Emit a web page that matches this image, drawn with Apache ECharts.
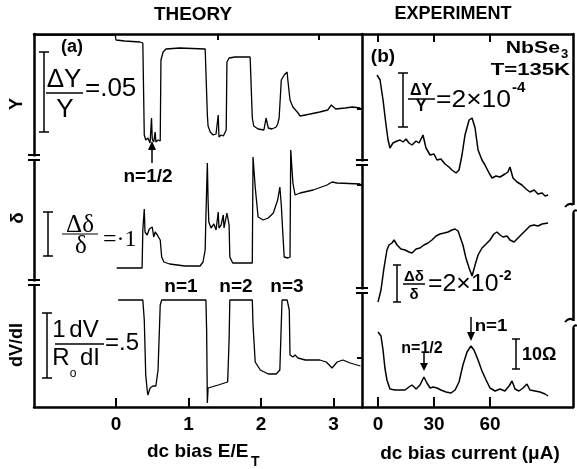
<!DOCTYPE html>
<html><head><meta charset="utf-8">
<script src="https://cdn.jsdelivr.net/npm/echarts@6/dist/echarts.min.js"></script>
<style>html,body{margin:0;padding:0;background:#fff}#c{width:577px;height:469px}</style>
</head><body><div id="c"></div>
<script>
// ---- tick values ----
const thTicks = [0, 1, 2, 3];
const thTopTicks = [1.41, 2.79];
const exTicks = [0, 30, 60];

// ---- THEORY (x: E/E_T, y: relative units) ----
const thY = [[-1.10,120],[-0.01,120],[0.00,115],[0.12,114],[0.33,113],[0.37,112],[0.39,20],[0.41,15],[0.44,17],[0.47,12],[0.49,37],[0.50,16],[0.52,13],[0.54,23],[0.55,13],[0.58,15],[0.61,14],[0.62,95],[0.65,103],[0.69,106],[0.88,107],[1.23,106],[1.24,105],[1.26,40],[1.27,29],[1.30,23],[1.34,20],[1.38,21],[1.40,20],[1.41,40],[1.42,18],[1.45,20],[1.48,19],[1.50,21],[1.52,25],[1.53,93],[1.56,97],[1.64,98],[1.85,98],[1.86,97],[1.88,37],[1.90,29],[1.96,26],[2.04,25],[2.07,37],[2.10,27],[2.15,26],[2.21,28],[2.23,31],[2.25,37],[2.28,75],[2.32,80],[2.36,83],[2.37,75],[2.40,55],[2.44,48],[2.50,43],[2.54,39],[2.68,41],[2.81,43],[2.92,45],[2.97,50],[2.99,49],[3.03,46],[3.16,47],[3.26,48],[3.37,47]];
const thD = [[0.01,12],[0.36,12],[0.37,50],[0.39,71],[0.40,48],[0.43,45],[0.46,51],[0.50,53],[0.52,43],[0.54,48],[0.57,45],[0.61,40],[0.63,23],[0.66,18],[0.74,16],[0.95,14],[1.16,14],[1.20,18],[1.23,30],[1.24,63],[1.26,117],[1.27,80],[1.28,58],[1.31,52],[1.35,56],[1.38,50],[1.41,68],[1.42,52],[1.45,55],[1.48,65],[1.49,52],[1.53,67],[1.56,55],[1.57,23],[1.61,17],[1.78,17],[1.88,17],[1.89,123],[1.92,93],[1.96,63],[2.03,60],[2.10,62],[2.17,67],[2.23,80],[2.26,93],[2.28,75],[2.30,48],[2.32,23],[2.37,22],[2.40,23],[2.41,130],[2.44,97],[2.47,85],[2.54,87],[2.72,90],[2.91,95],[2.98,98],[3.05,97],[3.37,96]];
const thR = [[0.03,107],[0.37,107],[0.39,87],[0.41,32],[0.43,17],[0.44,12],[0.47,19],[0.51,21],[0.55,21],[0.58,37],[0.61,102],[0.63,107],[1.24,107],[1.25,77],[1.26,4],[1.27,19],[1.41,22],[1.54,25],[1.56,67],[1.57,107],[1.88,107],[1.89,82],[1.92,45],[1.99,37],[2.10,33],[2.21,33],[2.26,37],[2.29,107],[2.36,107],[2.39,97],[2.40,52],[2.44,50],[2.47,52],[2.51,49],[2.61,47],[2.81,47],[2.90,45],[2.98,39],[3.05,45],[3.13,47],[3.23,44],[3.37,41]];

// ---- EXPERIMENT (x: dc bias current in uA, y: relative units) ----
const exY = [[-0.5,135],[1.1,130],[2.7,110],[4.3,85],[5.4,70],[6.4,62],[8.0,67],[10.2,69],[11.8,70],[13.4,68],[15.0,71],[16.6,67],[18.2,65],[20.4,69],[22.0,67],[24.1,75],[25.7,62],[27.9,55],[30.0,56],[31.6,50],[33.7,51],[35.9,46],[38.0,43],[39.6,40],[41.8,37],[43.4,40],[45.0,55],[46.6,75],[48.8,90],[50.4,92],[52.0,82],[53.6,60],[55.7,50],[57.3,45],[59.5,37],[61.1,32],[63.2,34],[65.4,33],[68.0,36],[69.6,38],[70.7,43],[72.3,32],[74.5,28],[77.1,25],[79.3,21],[81.4,18],[83.6,20],[85.7,16],[87.9,17],[89.5,14],[91.1,15]];
const exD = [[0.0,18],[1.6,30],[3.2,52],[4.8,70],[5.9,75],[7.5,77],[8.6,80],[10.2,75],[12.3,71],[14.5,70],[16.6,68],[18.2,67],[20.4,71],[22.5,72],[24.6,75],[26.8,77],[28.9,80],[31.1,84],[33.2,86],[35.4,87],[37.5,88],[39.6,90],[41.3,91],[42.9,89],[43.9,87],[45.5,75],[47.1,62],[48.8,52],[50.4,44],[52.0,55],[53.6,65],[55.7,72],[57.9,76],[60.0,80],[62.1,86],[63.7,88],[65.4,85],[67.0,83],[69.1,84],[70.7,80],[72.9,78],[75.0,82],[77.1,86],[79.3,90],[81.4,94],[83.6,95],[85.7,94],[87.9,96],[91.1,97]];
const exR = [[0.0,75],[1.6,71],[2.7,57],[3.7,39],[4.8,27],[6.4,18],[9.1,17],[11.8,17],[14.5,17],[16.6,20],[18.2,22],[20.4,18],[22.5,22],[24.6,30],[26.2,24],[27.9,19],[29.5,20],[31.6,19],[33.7,17],[36.4,15],[39.1,14],[41.3,17],[43.4,25],[45.5,42],[47.7,55],[49.8,61],[51.4,57],[53.6,47],[55.7,36],[57.9,27],[60.0,19],[62.7,16],[65.4,18],[68.0,16],[70.2,21],[71.8,26],[73.4,18],[75.5,16],[77.7,19],[79.8,23],[81.4,17],[84.1,16],[86.8,15],[89.5,13],[91.1,11]];

const TH = [-1.131, 3.393];
const EX = [-8.57, 104.46];
const FF = 'Liberation Sans';
const black = '#000';

function frameX(gi, rng, pos, ticks, labels, tlen) {
  return {gridIndex: gi, type: 'value', min: rng[0], max: rng[1], position: pos,
    axisLine: {show: true, onZero: false, lineStyle: {color: black, width: 2.5}},
    axisTick: {show: true, inside: true, length: tlen, customValues: ticks, lineStyle: {color: black, width: 2}},
    axisLabel: {show: labels, customValues: ticks, color: black, fontSize: 19, fontWeight: 'bold', fontFamily: FF, margin: 8},
    splitLine: {show: false}};
}
function hidX(gi, rng) { return {gridIndex: gi, type: 'value', min: rng[0], max: rng[1], show: false}; }
function frameY(gi, pos, show) {
  return {gridIndex: gi, type: 'value', min: 0, max: 1, position: pos, show: show,
    axisLine: {show: true, onZero: false, lineStyle: {color: black, width: 2.5}},
    axisTick: {show: false}, axisLabel: {show: false}, splitLine: {show: false}};
}
function hidY(gi, max) { return {gridIndex: gi, type: 'value', min: 0, max: max, show: false}; }
function ser(xi, data, w) {
  return {type: 'line', xAxisIndex: xi, yAxisIndex: xi, data: data, showSymbol: false, symbol: 'none',
    clip: false, lineStyle: {color: black, width: w}, silent: true};
}

// graphic helpers (annotations)
function T(x, y, text, size, o) {
  o = o || {};
  return {type: 'text', x: x, y: y, rotation: o.rot || 0, scaleX: o.sx || 1, z: 60, silent: true,
    style: {text: text, fontSize: size, fontFamily: o.ff || FF, fontWeight: o.fw || 'normal',
      fill: black, align: o.al || 'center', verticalAlign: 'middle'}};
}
function L(x1, y1, x2, y2, w) {
  return {type: 'line', z: 60, silent: true, shape: {x1: x1, y1: y1, x2: x2, y2: y2}, style: {stroke: black, lineWidth: w || 1.5}};
}
function W(x, y, w, h) {
  return {type: 'rect', z: 55, silent: true, shape: {x: x, y: y, width: w, height: h}, style: {fill: '#fff'}};
}
function P(pts) { return {type: 'polygon', z: 60, silent: true, shape: {points: pts}, style: {fill: black}}; }
function C(x1, y1, cx, cy, x2, y2) {
  return {type: 'bezierCurve', z: 60, silent: true, shape: {x1: x1, y1: y1, cpx1: cx, cpy1: cy, x2: x2, y2: y2}, style: {stroke: black, lineWidth: 2, fill: null}};
}
function SB(x, y1, y2, hw) { return [L(x, y1, x, y2, 1.5), L(x - hw, y1, x + hw, y1, 1.5), L(x - hw, y2, x + hw, y2, 1.5)]; }

const B = {fw: 'bold'};
const serif = 'Liberation Serif';
const graphics = [].concat(
  [T(193, 15, 'THEORY', 18, {fw: 'bold', sx: 1.05}), T(453, 14, 'EXPERIMENT', 18, B)],
  [T(72, 47, '(a)', 18, B), T(383, 57, '(b)', 19, B)],
  [T(560, 48, 'NbSe', 17, {al: 'right', fw: 'bold', sx: 1.25}), T(561, 54, '3', 13, {al: 'left', fw: 'bold'}),
   T(570, 70, 'T=135K', 17, {al: 'right', fw: 'bold', sx: 1.3})],
  // axis side labels
  [T(17, 104, 'Y', 18, {rot: Math.PI / 2, fw: 'bold'}), T(18, 218, 'δ', 19, {rot: Math.PI / 2, fw: 'bold'}),
   T(17, 345, 'dV/dI', 18, {rot: Math.PI / 2, fw: 'bold'})],
  // axis names
  [T(147, 452, 'dc bias E/E', 19, {al: 'left', fw: 'bold'}), T(251, 462, 'T', 14, {al: 'left', fw: 'bold'}),
   T(470, 454, 'dc bias current (μA)', 19, B)],
  // theory scale bars
  SB(44, 52, 132, 5),
  [T(64, 80, 'ΔY', 26), L(46, 93, 83, 93, 1.5), T(65, 110, 'Y', 26), T(85, 89, '=.05', 26, {al: 'left'})],
  SB(48, 212, 256, 5),
  [T(80, 225, 'Δδ', 25, {ff: serif}), L(62, 234, 98, 234, 1.2), T(81, 246, 'δ', 25, {ff: serif}),
   T(103, 240, '=·1', 24, {al: 'left', ff: serif})],
  SB(47, 313, 378, 5),
  [T(59, 330, '1', 24), T(84, 330, 'dV', 24), L(55, 344, 104, 344, 1.5), T(61, 358, 'R', 24), T(73, 374, 'o', 12),
   T(90, 358, 'dI', 24), T(105, 343, '=.5', 24, {al: 'left'})],
  // theory n labels
  [T(148, 177, 'n=1/2', 19, B), T(181, 287, 'n=1', 19, B), T(236, 287, 'n=2', 19, B), T(287, 287, 'n=3', 19, B)],
  [L(152, 163, 152, 148, 1.5), P([[152, 141], [148, 150], [156, 150]])],
  // experiment scale bars
  SB(403, 73, 127, 5),
  [T(421, 91, 'ΔY', 16, B), L(408, 99, 435, 99, 1.5), T(421, 107, 'Y', 16, B),
   T(436, 101, '=2×10', 23, {al: 'left', sx: 1.15}), T(512, 88, '-4', 15, {al: 'left', fw: 'bold'})],
  SB(397, 265, 302, 4),
  [T(414, 277, 'Δδ', 15, B), L(403, 284, 425, 284, 1.5), T(414, 295, 'δ', 15, B),
   T(428, 285, '=2×10', 23, {al: 'left', sx: 1.08}), T(499, 276, '-2', 14, {al: 'left', fw: 'bold'})],
  SB(516, 339, 369, 4),
  [T(522, 355, '10Ω', 18, {al: 'left', fw: 'bold'})],
  [T(422, 349, 'n=1/2', 16, B), L(424, 353, 424, 365, 1.5), P([[424, 371], [420, 363], [428, 363]]),
   T(491, 326, 'n=1', 17, {fw: 'bold', sx: 1.1}), L(471, 317, 471, 334, 1.5), P([[471, 341], [467, 332], [475, 332]])],
  // axis breaks
  [W(29, 156.5, 10, 3), L(28, 155, 40, 155, 2), L(28, 160, 40, 160, 2),
   W(29, 281.5, 10, 3), L(28, 280, 40, 280, 2), L(28, 285, 40, 285, 2),
   W(357, 161.5, 10, 3), L(356, 160, 368, 160, 2), L(356, 165, 368, 165, 2),
   W(357, 289.5, 10, 3), L(356, 288, 368, 288, 2), L(356, 293, 368, 293, 2),
   L(357, 109, 362, 109, 2), L(357, 185, 362, 185, 2), L(357, 358, 362, 358, 2),
   W(569, 205, 8, 8), C(565, 207, 569, 202, 573, 205), C(573, 213, 575, 209, 577, 211),
   W(569, 321, 8, 7), C(565, 322, 569, 317, 573, 320), C(573, 328, 575, 324, 577, 326)]
);

const chart = echarts.init(document.getElementById('c'), null, {renderer: 'canvas'});
chart.setOption({
  animation: false,
  backgroundColor: '#fff',
  grid: [
    {left: 34, top: 34, width: 328, height: 373, outerBoundsMode: 'none'},
    {left: 34, top: 34, width: 328, height: 121, outerBoundsMode: 'none'},
    {left: 34, top: 148, width: 328, height: 132, outerBoundsMode: 'none'},
    {left: 34, top: 285, width: 328, height: 122, outerBoundsMode: 'none'},
    {left: 362, top: 34, width: 211, height: 373, outerBoundsMode: 'none'},
    {left: 362, top: 34, width: 211, height: 176, outerBoundsMode: 'none'},
    {left: 362, top: 210, width: 211, height: 110, outerBoundsMode: 'none'},
    {left: 362, top: 320, width: 211, height: 87, outerBoundsMode: 'none'}
  ],
  xAxis: [
    frameX(0, TH, 'bottom', thTicks, true, 9),
    frameX(0, TH, 'top', thTopTicks, false, 6),
    hidX(1, TH), hidX(2, TH), hidX(3, TH),
    frameX(4, EX, 'bottom', exTicks, true, 10),
    frameX(4, EX, 'top', exTicks, false, 8),
    hidX(5, EX), hidX(6, EX), hidX(7, EX)
  ],
  yAxis: [
    frameY(0, 'left', true), frameY(0, 'right', true),
    hidY(1, 121), hidY(2, 132), hidY(3, 122),
    frameY(4, 'left', false), frameY(4, 'right', true),
    hidY(5, 176), hidY(6, 110), hidY(7, 87)
  ],
  series: [
    ser(2, thY, 1.3), ser(3, thD, 1.3), ser(4, thR, 1.3),
    ser(7, exY, 1.5), ser(8, exD, 1.5), ser(9, exR, 1.5)
  ],
  graphic: {elements: graphics}
});
</script>
</body></html>
